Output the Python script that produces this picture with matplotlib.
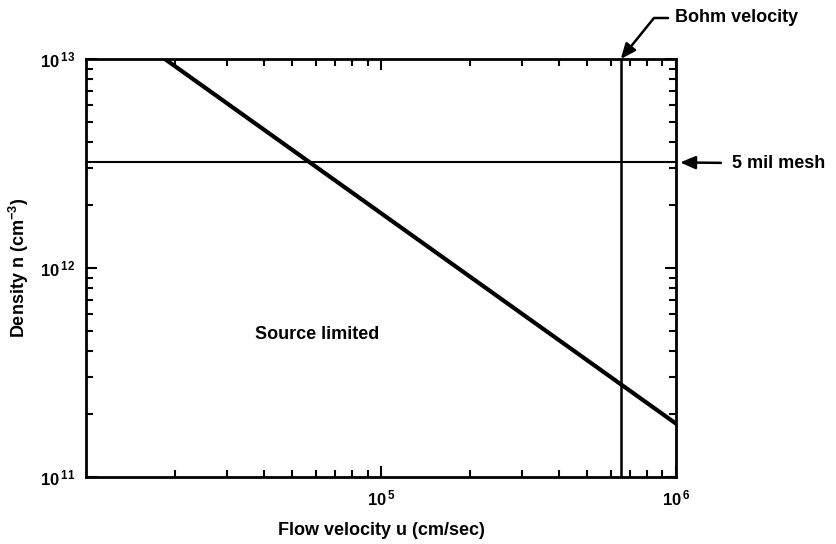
import matplotlib
matplotlib.use('Agg')
import matplotlib.pyplot as plt
from matplotlib.ticker import FixedLocator, FixedFormatter, LogLocator, NullFormatter

plt.rcParams['font.family'] = ['Liberation Sans', 'DejaVu Sans']
plt.rcParams['font.weight'] = 'bold'
plt.rcParams['mathtext.fontset'] = 'custom'
plt.rcParams['mathtext.rm'] = 'Liberation Sans:bold'
plt.rcParams['mathtext.bf'] = 'Liberation Sans:bold'
plt.rcParams['mathtext.default'] = 'bf'

# source limited boundary: n * u = const
velocity = [1.85e4, 1.0e6]
density = [1.0e13, 1.8e11]
mesh_density = 3.2e12      # 5 mil mesh
bohm_velocity = 6.5e5      # Bohm velocity

x_ticks = [1e5, 1e6]
x_labels = [r'$10^{\,5}$', r'$10^{\,6}$']
y_ticks = [1e11, 1e12, 1e13]
y_labels = [r'$10^{\,11}$', r'$10^{\,12}$', r'$10^{\,13}$']

fig = plt.figure(figsize=(8.36, 5.44), dpi=100)
ax = fig.add_axes([0.1029, 0.1232, 0.7057, 0.7684])

ax.plot(velocity, density, color='black', lw=3)
ax.axhline(mesh_density, color='black', lw=1.5)
ax.axvline(bohm_velocity, color='black', lw=1.8)

ax.set_xscale('log')
ax.set_yscale('log')
ax.set_xlim(1e4, 1e6)
ax.set_ylim(1e11, 1e13)

ax.xaxis.set_major_locator(FixedLocator(x_ticks))
ax.xaxis.set_major_formatter(FixedFormatter(x_labels))
ax.yaxis.set_major_locator(FixedLocator(y_ticks))
ax.yaxis.set_major_formatter(FixedFormatter(y_labels))
for a in (ax.xaxis, ax.yaxis):
    a.set_minor_locator(LogLocator(base=10, subs=range(2, 10)))
    a.set_minor_formatter(NullFormatter())

ax.tick_params(which='both', direction='in', top=True, right=True,
               width=1.5, labelsize=12, colors='black')
ax.tick_params(which='major', length=8, pad=8)
ax.tick_params(which='minor', length=5)
for s in ax.spines.values():
    s.set_linewidth(2)

ax.set_xlabel('Flow velocity u (cm/sec)', fontsize=13, fontweight='bold', labelpad=10)
ax.set_ylabel(r'Density n (cm$^{-3}$)', fontsize=13, fontweight='bold', labelpad=6)

ax.text(0.392, 0.342, 'Source limited', transform=ax.transAxes,
        ha='center', va='center', fontsize=13, fontweight='bold')

ax.annotate('Bohm velocity', xy=(bohm_velocity, 1e13), xycoords='data',
            xytext=(675, 544 - 18), textcoords='figure pixels',
            ha='left', va='center', fontsize=13, fontweight='bold',
            arrowprops=dict(arrowstyle='-|>,head_length=0.7,head_width=0.3',
                            color='black', lw=1.8, relpos=(0, 0.5),
                            shrinkA=3, shrinkB=0,
                            connectionstyle='angle,angleA=0,angleB=51,rad=0'),
            annotation_clip=False)

ax.annotate('5 mil mesh', xy=(1.0, mesh_density), xycoords=('axes fraction', 'data'),
            xytext=(732, 544 - 163), textcoords='figure pixels',
            ha='left', va='center', fontsize=13, fontweight='bold',
            arrowprops=dict(arrowstyle='-|>,head_length=0.7,head_width=0.3',
                            color='black', lw=1.8, relpos=(0, 0.5),
                            shrinkA=6, shrinkB=3),
            annotation_clip=False)

fig.savefig('out.png', dpi=100)
